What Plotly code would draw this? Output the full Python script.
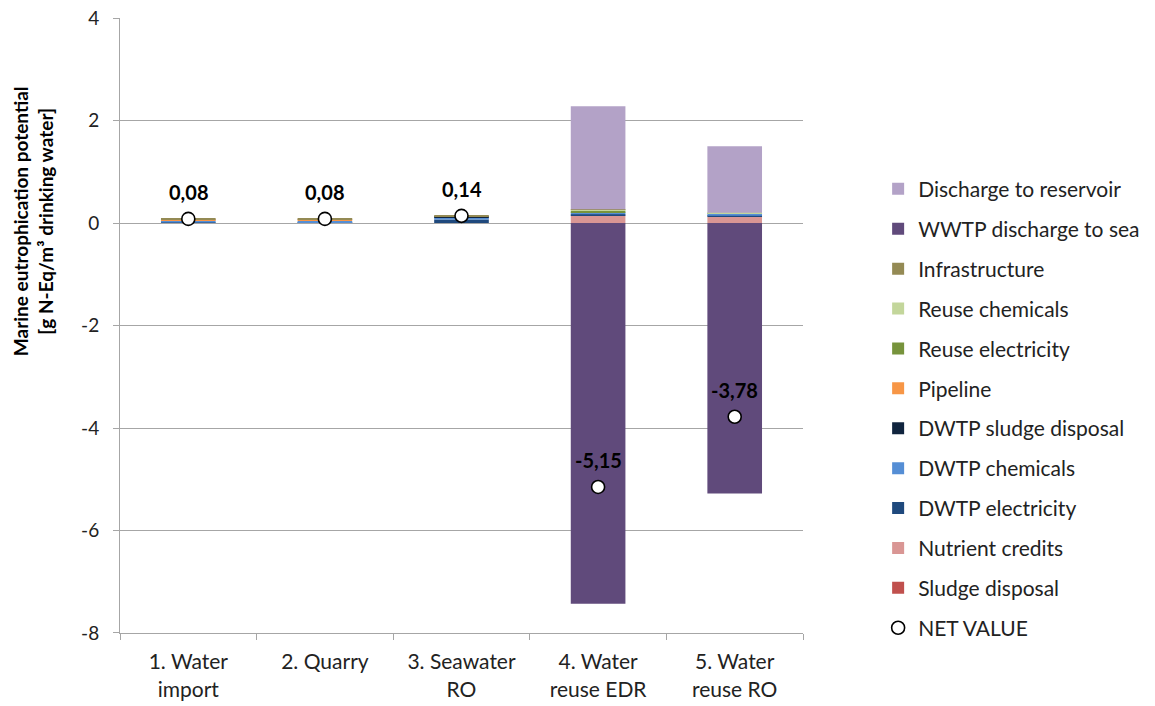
import plotly.graph_objects as go

categories = ["1. Water<br>import", "2. Quarry", "3. Seawater<br>RO", "4. Water<br>reuse EDR", "5. Water<br>reuse RO"]
y_ticks = [-8, -6, -4, -2, 0, 2, 4]
y_tick_labels = ["-8", "-6", "-4", "-2", "0", "2", "4"]

# stacked series, in stacking order (bottom first)
sludge_disposal = [0.0, 0.0, 0.0, 0.0, 0.0]
nutrient_credits = [0.0, 0.0, 0.0, 0.15, 0.12]
dwtp_electricity = [0.01, 0.01, 0.07, 0.02, 0.02]
dwtp_chemicals = [0.04, 0.03, 0.04, 0.04, 0.04]
dwtp_sludge_disposal = [0.0, 0.0, 0.01, 0.0, 0.0]
pipeline = [0.02, 0.02, 0.0, 0.0, 0.0]
reuse_electricity = [0.0, 0.0, 0.0, 0.03, 0.01]
reuse_chemicals = [0.0, 0.0, 0.0, 0.02, 0.01]
infrastructure = [0.01, 0.02, 0.02, 0.01, 0.0]
wwtp_discharge_to_sea = [0.0, 0.0, 0.0, -7.43, -5.28]
discharge_to_reservoir = [0.0, 0.0, 0.0, 2.01, 1.30]
net_value = [0.08, 0.08, 0.14, -5.15, -3.78]

series = [
    ("Sludge disposal", sludge_disposal, "#C0504D"),
    ("Nutrient credits", nutrient_credits, "#D99694"),
    ("DWTP electricity", dwtp_electricity, "#1F497D"),
    ("DWTP chemicals", dwtp_chemicals, "#558ED5"),
    ("DWTP sludge disposal", dwtp_sludge_disposal, "#10243E"),
    ("Pipeline", pipeline, "#F79646"),
    ("Reuse electricity", reuse_electricity, "#77933C"),
    ("Reuse chemicals", reuse_chemicals, "#C3D69B"),
    ("Infrastructure", infrastructure, "#948A54"),
    ("WWTP discharge to sea", wwtp_discharge_to_sea, "#604A7B"),
    ("Discharge to reservoir", discharge_to_reservoir, "#B3A2C7"),
]

FONT = "Lato, Carlito, 'Open Sans', sans-serif"

fig = go.Figure()

n = len(series)
for i, (name, vals, color) in enumerate(series):
    fig.add_trace(go.Bar(
        x=categories, y=vals, name=name, legendgroup=name,
        legendrank=n - i,
        marker=dict(color=color, line=dict(width=0)),
    ))

fig.add_trace(go.Scatter(
    x=categories, y=net_value, mode="markers", name="NET VALUE",
    legendgroup="net", legendrank=n + 1,
    marker=dict(size=13, color="white", line=dict(color="black", width=1.6)),
))

for cat, v in zip(categories, net_value):
    fig.add_annotation(
        x=cat, y=v, xref="x", yref="y", yshift=27, showarrow=False,
        text="<b>" + f"{v:.2f}".replace(".", ",") + "</b>",
        font=dict(family=FONT, size=20, color="black"),
    )

fig.add_annotation(
    xref="paper", yref="paper", x=-0.127, y=0.67,
    xanchor="center", yanchor="middle", showarrow=False, textangle=-90,
    text="<b>Marine eutrophication potential<br>[g N-Eq/m³ drinking water]</b>",
    font=dict(family=FONT, size=19, color="black"),
)

fig.update_layout(
    width=1155, height=706,
    barmode="relative", bargap=0.6,
    plot_bgcolor="white", paper_bgcolor="white",
    margin=dict(l=120, r=352, t=18, b=73, autoexpand=False),
    font=dict(family=FONT, size=21, color="#222"),
    legend=dict(
        traceorder="grouped", tracegroupgap=9.6,
        x=1.11, xanchor="left", y=0.755, yanchor="top",
        font=dict(family=FONT, size=21, color="#222"),
        itemwidth=30,
    ),
    showlegend=True,
)

fig.update_yaxes(
    range=[-8.0001, 4.0001], tickvals=y_ticks, ticktext=y_tick_labels,
    showgrid=True, gridcolor="#A6A6A6", gridwidth=1,
    zeroline=True, zerolinecolor="#A6A6A6", zerolinewidth=1,
    showline=True, linecolor="#A6A6A6", linewidth=1,
    ticks="outside", ticklen=6, tickcolor="#A6A6A6",
    ticklabelstandoff=10, ticklabeloverflow="allow",
    tickfont=dict(family=FONT, size=19, color="#222"),
)
fig.update_xaxes(
    showline=True, linecolor="#A6A6A6", linewidth=1,
    ticks="outside", ticklen=6, tickcolor="#A6A6A6", tickson="boundaries",
    ticklabelstandoff=10, ticklabeloverflow="allow",
    tickfont=dict(family=FONT, size=21, color="#222"),
)

fig.write_html(
    "out.html",
    config={"displayModeBar": False},
    post_script="document.body.style.margin='0';document.body.style.overflow='hidden';",
)
